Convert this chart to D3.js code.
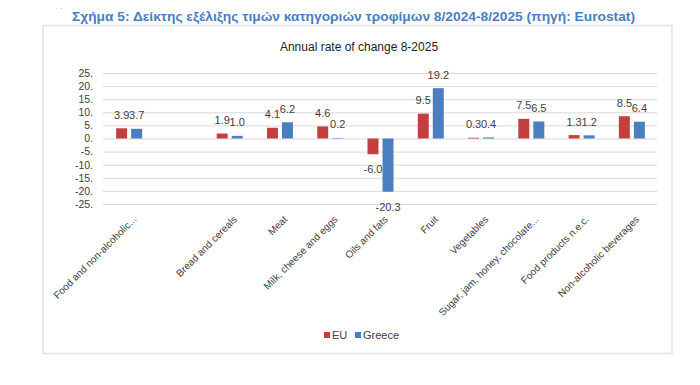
<!DOCTYPE html>
<html lang="el">
  <head>
    <meta charset="UTF-8" />
    <title>Annual rate of change 8-2025</title>
    <script src="https://d3js.org/d3.v7.min.js"></script>
    <style>
      body {
        margin: 0;
        background: #fff;
        font-family: "Liberation Sans", Arial, sans-serif;
      }
    </style>
  </head>
  <body>
    <div id="chart"></div>

    <script>
      // categories (one blank slot after the first, as in the source chart)
      const categories = [
        "Food and non-alcoholic...",
        "",
        "Bread and cereals",
        "Meat",
        "Milk, cheese and eggs",
        "Oils and fats",
        "Fruit",
        "Vegetables",
        "Sugar, jam, honey, chocolate...",
        "Food products n.e.c.",
        "Non-alcoholic beverages",
      ];
      const euValues = [3.9, null, 1.9, 4.1, 4.6, -6.0, 9.5, 0.3, 7.5, 1.3, 8.5];
      const greeceValues = [3.7, null, 1.0, 6.2, 0.2, -20.3, 19.2, 0.4, 6.5, 1.2, 6.4];
      const seriesNames = ["EU", "Greece"];
      const yTicks = [25, 20, 15, 10, 5, 0, -5, -10, -15, -20, -25];

      const w = 700;
      const h = 385;
      const colors = { EU: "#c43e3f", Greece: "#4a7ebf" };

      const svg = d3
        .select("#chart")
        .append("svg")
        .attr("width", w)
        .attr("height", h);

      // figure caption
      svg
        .append("text")
        .attr("x", 56)
        .attr("y", 9)
        .attr("fill", "#999")
        .attr("font-size", 7)
        .text(". .");

      svg
        .append("text")
        .attr("x", 72)
        .attr("y", 21)
        .attr("fill", "#4a7ebf")
        .attr("font-weight", "bold")
        .attr("font-size", 12.5)
        .attr("textLength", 563)
        .attr("lengthAdjust", "spacingAndGlyphs")
        .text(
          "Σχήμα 5: Δείκτης εξέλιξης τιμών κατηγοριών τροφίμων 8/2024-8/2025 (πηγή: Eurostat)"
        );

      // chart frame
      svg
        .append("rect")
        .attr("x", 43)
        .attr("y", 25.5)
        .attr("width", 629)
        .attr("height", 328)
        .attr("fill", "#fff")
        .attr("stroke", "#e2e2e2")
        .attr("stroke-width", 1.5);

      svg
        .append("text")
        .attr("x", 359)
        .attr("y", 51)
        .attr("text-anchor", "middle")
        .attr("fill", "#222")
        .attr("font-size", 12)
        .text("Annual rate of change 8-2025");

      // scales
      const x = d3
        .scaleBand()
        .domain(d3.range(categories.length))
        .range([104, 657]);

      const xInner = d3
        .scaleBand()
        .domain(seriesNames)
        .range([-13, 13])
        .paddingInner(0.27);

      const y = d3.scaleLinear().domain([-25, 25]).range([204, 73]);

      // y axis with gridlines
      svg
        .append("g")
        .attr("id", "y-axis")
        .attr("transform", "translate(103, 0)")
        .call(
          d3
            .axisLeft(y)
            .tickValues(yTicks)
            .tickSize(-554)
            .tickPadding(10)
            .tickFormat((d) => d + ".")
        )
        .call((g) => g.select(".domain").remove())
        .call((g) => g.selectAll(".tick line").attr("stroke", "#d9d9d9"))
        .call((g) =>
          g
            .selectAll(".tick text")
            .attr("fill", "#404040")
            .attr("font-size", 10.5)
            .attr("font-family", "'Liberation Sans', Arial, sans-serif")
        );

      // bars
      const rows = categories.map((c, i) => ({
        i: i,
        values: [
          { key: "EU", v: euValues[i] },
          { key: "Greece", v: greeceValues[i] },
        ],
      }));

      const groups = svg
        .selectAll(".cat")
        .data(rows)
        .enter()
        .append("g")
        .attr("class", "cat")
        .attr("transform", (d) => `translate(${x(d.i) + x.bandwidth() / 2}, 0)`);

      const cells = groups
        .selectAll(".cell")
        .data((d) => d.values.filter((s) => s.v !== null))
        .enter();

      cells
        .append("rect")
        .attr("class", "bar")
        .attr("x", (d) => xInner(d.key))
        .attr("width", xInner.bandwidth())
        .attr("y", (d) => y(Math.max(0, d.v)))
        .attr("height", (d) => Math.abs(y(d.v) - y(0)))
        .attr("fill", (d) => colors[d.key]);

      cells
        .append("text")
        .attr("x", (d) => xInner(d.key) + xInner.bandwidth() / 2)
        .attr("y", (d) => (d.v >= 0 ? y(d.v) - 9.5 : y(d.v) + 19))
        .attr("text-anchor", "middle")
        .attr("fill", "#404040")
        .attr("font-size", 11)
        .text((d) => d.v.toFixed(1));

      // rotated category labels
      svg
        .selectAll(".xlabel")
        .data(categories)
        .enter()
        .append("text")
        .attr("class", "xlabel")
        .attr("text-anchor", "end")
        .attr("fill", "#404040")
        .attr("font-size", 10)
        .attr("transform", (d, i) => {
          const cx = x(i) + x.bandwidth() / 2 + 8;
          return `translate(${cx}, 220) rotate(-45)`;
        })
        .text((d) => d);

      // legend
      const legend = svg
        .append("g")
        .attr("transform", "translate(324, 332)");

      const items = legend
        .selectAll(".item")
        .data(seriesNames)
        .enter()
        .append("g")
        .attr("transform", (d, i) => `translate(${i * 31}, 0)`);

      items
        .append("rect")
        .attr("width", 6)
        .attr("height", 6)
        .attr("fill", (d) => colors[d]);

      items
        .append("text")
        .attr("x", 8)
        .attr("y", 6.5)
        .attr("fill", "#404040")
        .attr("font-size", 11)
        .text((d) => d);
    </script>
  </body>
</html>
